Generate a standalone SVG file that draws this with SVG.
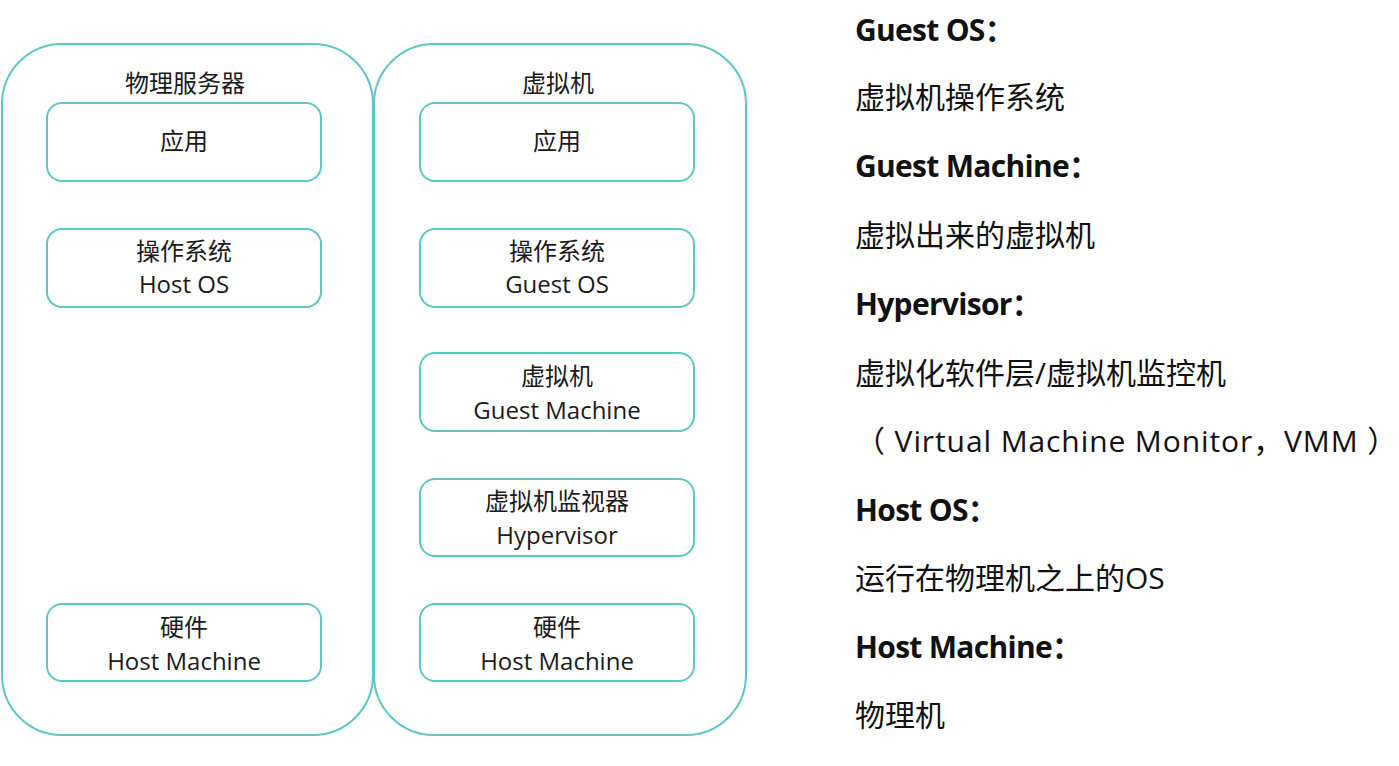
<svg xmlns="http://www.w3.org/2000/svg" width="1399" height="766" viewBox="0 0 1399 766">
<style>
.cont{fill:none;stroke:#5ec7c2;stroke-width:2}
.box{fill:#fff;stroke:#5ec7c2;stroke-width:2}
.t{font-family:"Open Sans","Noto Sans CJK SC",sans-serif;fill:#1a1a1a;text-anchor:middle;font-size:24px}
.r{font-family:"Open Sans","Noto Sans CJK SC",sans-serif;fill:#111;font-size:30px}
.b{font-weight:bold;letter-spacing:-0.7px}
.w{letter-spacing:0.9px}
</style>
<rect width="1399" height="766" fill="#fff"/>
<g id="physical-server">
<rect class="cont" x="2" y="44" width="371" height="691" rx="60"/>
<text class="t" x="185" y="92">物理服务器</text>
</g>
<g id="virtual-machine">
<rect class="cont" x="374" y="44" width="372" height="691" rx="60"/>
<text class="t" x="558" y="92">虚拟机</text>
</g>
<g id="p-app"><rect class="box" x="47" y="103" width="274" height="78" rx="15"/><text class="t" x="184" y="150">应用</text></g>
<g id="p-os"><rect class="box" x="47" y="229" width="274" height="78" rx="15"/><text class="t" x="184" y="260">操作系统</text><text class="t" x="184" y="293">Host OS</text></g>
<g id="p-hw"><rect class="box" x="47" y="604" width="274" height="77" rx="15"/><text class="t" x="184" y="636">硬件</text><text class="t" x="184" y="670">Host Machine</text></g>
<g id="v-app"><rect class="box" x="420" y="103" width="274" height="78" rx="15"/><text class="t" x="557" y="150">应用</text></g>
<g id="v-os"><rect class="box" x="420" y="229" width="274" height="78" rx="15"/><text class="t" x="557" y="260">操作系统</text><text class="t" x="557" y="293">Guest OS</text></g>
<g id="v-gm"><rect class="box" x="420" y="353" width="274" height="78" rx="15"/><text class="t" x="557" y="385">虚拟机</text><text class="t" x="557" y="419">Guest Machine</text></g>
<g id="v-hv"><rect class="box" x="420" y="479" width="274" height="77" rx="15"/><text class="t" x="557" y="510">虚拟机监视器</text><text class="t" x="557" y="544">Hypervisor</text></g>
<g id="v-hw"><rect class="box" x="420" y="604" width="274" height="77" rx="15"/><text class="t" x="557" y="636">硬件</text><text class="t" x="557" y="670">Host Machine</text></g>
<g id="connectors"></g>
<g id="legend">
<text class="r b" x="855" y="41">Guest OS：</text>
<text class="r" x="855" y="108">虚拟机操作系统</text>
<text class="r b" x="855" y="177">Guest Machine：</text>
<text class="r" x="855" y="246">虚拟出来的虚拟机</text>
<text class="r b" x="855" y="315">Hypervisor：</text>
<text class="r" x="855" y="384">虚拟化软件层/虚拟机监控机</text>
<text class="r w" x="855" y="452">（ Virtual Machine Monitor，VMM ）</text>
<text class="r b" x="855" y="521">Host OS：</text>
<text class="r" x="855" y="589">运行在物理机之上的OS</text>
<text class="r b" x="855" y="658">Host Machine：</text>
<text class="r" x="855" y="726">物理机</text>
</g>
</svg>
